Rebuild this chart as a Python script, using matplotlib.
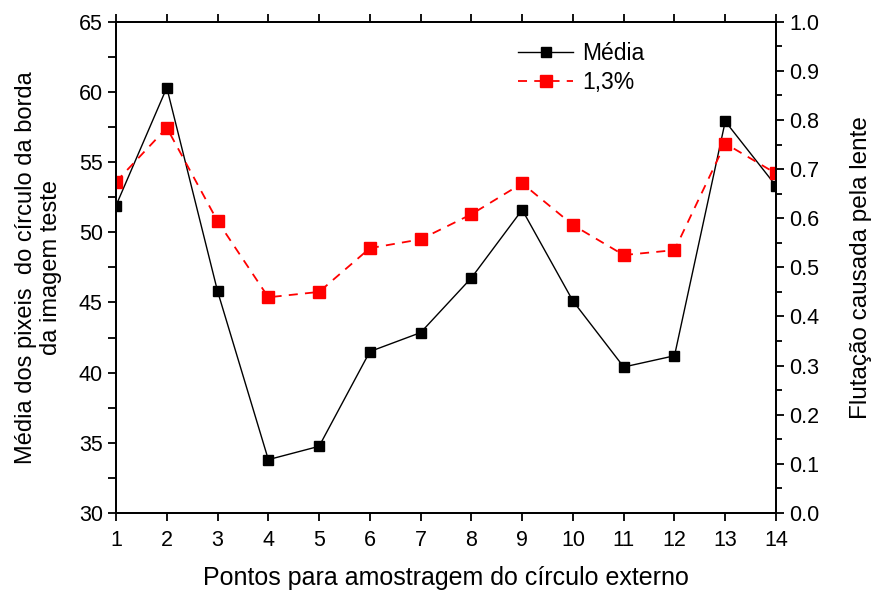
import matplotlib.pyplot as plt
from matplotlib.ticker import MultipleLocator

plt.rcParams['font.family'] = ['Liberation Sans', 'DejaVu Sans']

pontos = list(range(1, 15))
media = [51.9, 60.3, 45.8, 33.8, 34.75, 41.5, 42.85, 46.75, 51.6, 45.1, 40.4, 41.2, 57.9, 53.3]
flutuacao = [0.674, 0.784, 0.594, 0.439, 0.450, 0.539, 0.557, 0.608, 0.671, 0.586, 0.525, 0.535, 0.752, 0.691]

fig = plt.figure(figsize=(8.75, 5.94), dpi=100)
ax = fig.add_axes([0.1326, 0.1364, 0.7543, 0.8271])
ax2 = ax.twinx()

l1, = ax.plot(pontos, media, color='black', lw=1, marker='s', ms=7.5,
              mfc='black', mec='black', label='Média')
l2, = ax2.plot(pontos, flutuacao, color='red', lw=1.3, ls=(0, (5, 4)), marker='s',
               ms=8.5, mfc='red', mec='red', label='1,3%')

ax.set_xlim(1, 14)
ax.set_ylim(30, 65)
ax2.set_ylim(0, 1.0)
ax.set_xticks(pontos)
ax.yaxis.set_major_locator(MultipleLocator(5))
ax.yaxis.set_minor_locator(MultipleLocator(2.5))
ax2.yaxis.set_major_locator(MultipleLocator(0.1))
ax2.yaxis.set_minor_locator(MultipleLocator(0.05))
ax2.yaxis.set_major_formatter(lambda v, p: f'{v:.1f}')

ax.tick_params(axis='both', which='major', direction='out', length=6, width=1.3, labelsize=15.5)
ax.tick_params(axis='x', pad=6, top=True)
ax.tick_params(axis='y', which='minor', direction='out', length=6, width=1.3)
ax2.tick_params(axis='y', which='major', direction='out', length=6, width=1.3, labelsize=15.5)
ax2.tick_params(axis='y', which='minor', direction='out', length=4, width=1.3)
for a in (ax, ax2):
    for s in a.spines.values():
        s.set_linewidth(1.3)

ax.set_xlabel('Pontos para amostragem do círculo externo', fontsize=18, labelpad=11)
ax.set_ylabel('Média dos pixeis  do círculo da borda\nda imagem teste', fontsize=17, labelpad=12)
ax2.set_ylabel('Flutação causada pela lente', fontsize=17.5, labelpad=22)

ax.legend(handles=[l1, l2], loc='upper left', bbox_to_anchor=(0.578, 1.0), frameon=False,
          fontsize=16.5, handlelength=2.4, labelspacing=0.25, handletextpad=0.4)

fig.savefig('out.png', dpi=100)
